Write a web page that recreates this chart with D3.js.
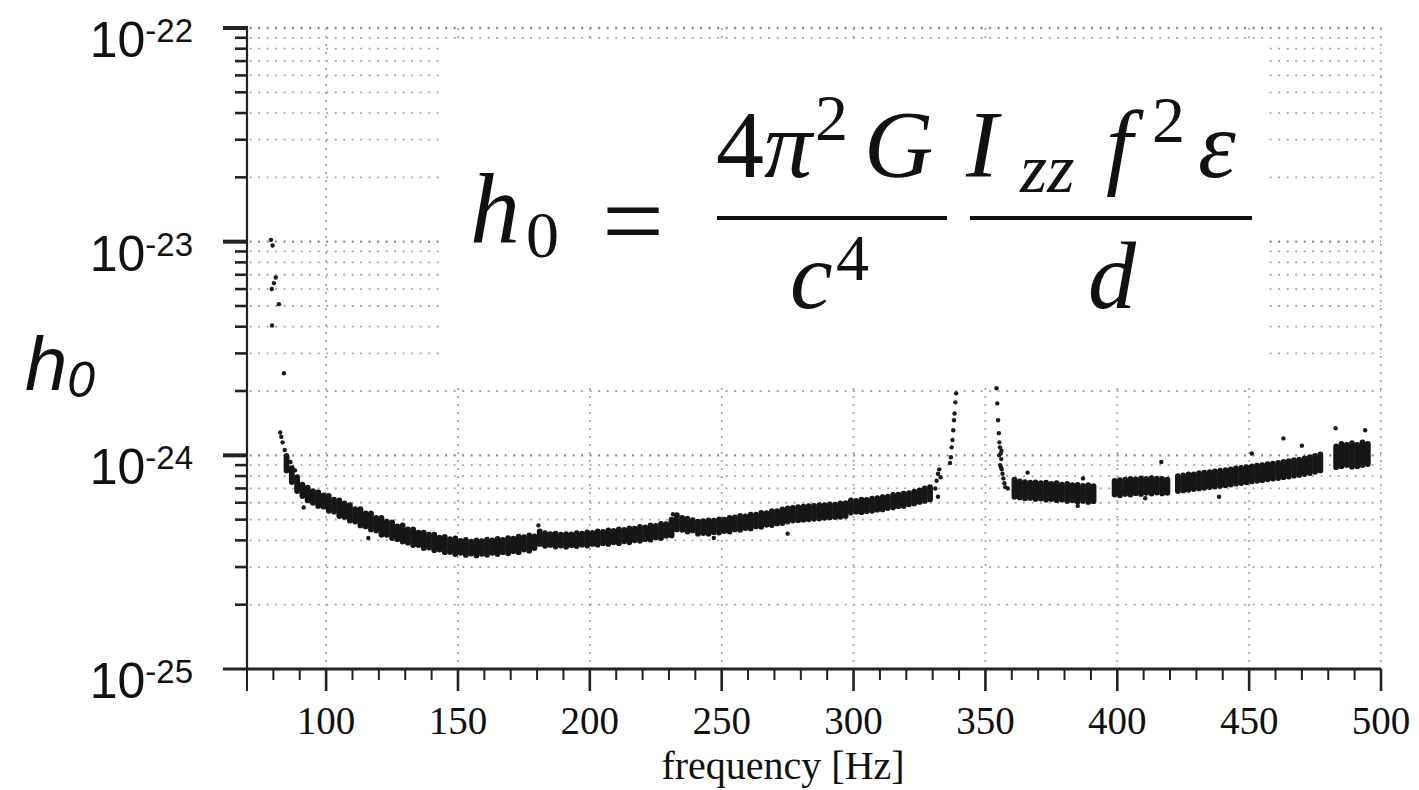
<!DOCTYPE html>
<html lang="en">
<head>
<meta charset="UTF-8">
<title>h0 upper limits</title>
<script src="https://d3js.org/d3.v7.min.js"></script>
<style>
  body { margin: 0; background: #fff; }
  svg { display: block; }
  .serif { font-family: 'Liberation Serif', 'Times New Roman', serif; }
  .sans { font-family: 'Liberation Sans', Arial, sans-serif; }
</style>
</head>
<body>
<script>
// frequencies in Hz, h0 values in units of 1e-24
const xTickLabels = [100, 150, 200, 250, 300, 350, 400, 450, 500];
const yDecades = [-25, -24, -23, -22];

// dense band, read per 2 Hz: [freq, low edge, high edge]
const bandA = [[85,.85,.99],[87,.75,.87],[89,.68,.79],[91,.645,.73],[93,.615,.705],[95,.60,.68],[97,.58,.67],[99,.575,.65],
  [101,.55,.645],[103,.545,.62],[105,.52,.615],[107,.515,.595],[109,.495,.585],[111,.49,.56],[113,.47,.56],[115,.465,.535],
  [117,.45,.535],[119,.445,.51],[121,.425,.51],[123,.425,.49],[125,.41,.485],[127,.405,.465],[129,.395,.47],[131,.39,.45],
  [133,.38,.45],[135,.38,.435],[137,.368,.435],[139,.37,.425],[141,.36,.425],[143,.362,.412],[145,.352,.415],[147,.353,.405],
  [149,.345,.408],[151,.35,.398],[153,.342,.402],[155,.347,.395],[157,.34,.40],[159,.346,.397],[161,.343,.403],[163,.35,.40],
  [165,.345,.406],[167,.352,.402],[169,.348,.41],[171,.356,.407],[173,.352,.416],[175,.362,.414],[177,.358,.422],[179,.368,.418]];
const bandB = [[181,.385,.44],[183,.377,.432],[185,.381,.428],[187,.374,.43],[189,.378,.425],[191,.373,.428],[193,.379,.427],
  [195,.376,.432],[197,.382,.43],[199,.378,.436],[201,.385,.434],[203,.382,.44],[205,.388,.438],[207,.385,.445],[209,.392,.443],
  [211,.388,.45],[213,.396,.448],[215,.392,.455],[217,.40,.454],[219,.398,.462],[221,.405,.46],[223,.403,.47],[225,.412,.468],
  [227,.41,.478],[229,.42,.476],[231,.422,.50]];
const bandC = [[233,.45,.525],[235,.448,.51],[237,.44,.505],[239,.445,.498]];
const bandD = [[241,.43,.49],[243,.433,.492],[245,.43,.496],[247,.437,.495],[249,.435,.502],[251,.442,.50],[253,.44,.51],
  [255,.45,.512],[257,.448,.52],[259,.457,.518],[261,.455,.528],[263,.465,.527],[265,.463,.538],[267,.473,.537],[269,.472,.548],
  [271,.48,.548],[273,.482,.558],[275,.49,.565],[277,.495,.568],[279,.497,.572],[281,.50,.575],[283,.502,.578],[285,.505,.58],
  [287,.506,.585],[289,.51,.584],[291,.512,.59],[293,.515,.588],[295,.516,.595],[297,.52,.598]];
const bandE = [[299,.54,.615],[301,.545,.612],[303,.542,.62],[305,.548,.618],[307,.55,.627],[309,.557,.63],[311,.558,.637],
  [313,.567,.64],[315,.57,.652],[317,.578,.655],[319,.58,.662],[321,.59,.665],[323,.595,.676],[325,.605,.685],[327,.612,.70],
  [329,.622,.71]];
const bandF = [[361,.64,.77],[363,.635,.755],[365,.63,.75],[367,.632,.745],[369,.625,.748],[371,.628,.74],[373,.62,.745],
  [375,.624,.735],[377,.617,.74],[379,.62,.73],[381,.612,.735],[383,.616,.725],[385,.608,.728],[387,.612,.72],[389,.605,.725],
  [391,.61,.718]];
const bandG = [[399,.655,.76],[401,.65,.765],[403,.66,.77],[405,.655,.775],[407,.665,.772],[409,.66,.78],[411,.668,.775],
  [413,.662,.782],[415,.67,.778],[417,.663,.775],[419,.668,.77]];
const bandH = [[423,.68,.80],[425,.685,.805],[427,.69,.815],[429,.695,.815],[431,.70,.825],[433,.705,.83],[435,.71,.835],
  [437,.714,.842],[439,.718,.848],[441,.724,.852],[443,.73,.86],[445,.737,.868],[447,.742,.874],[449,.748,.88],[451,.755,.888],
  [453,.76,.895],[455,.765,.90],[457,.773,.91],[459,.778,.915],[461,.783,.922],[463,.79,.932],[465,.795,.94],[467,.803,.95],
  [469,.81,.955],[471,.818,.968],[473,.826,.98],[475,.838,.995],[477,.85,1.01]];
const bandI = [[483,.88,1.1],[485,.89,1.13],[487,.9,1.12],[489,.885,1.14],[491,.89,1.12],[493,.9,1.15],[495,.91,1.13]];

// isolated points: [freq, h0]
const scattered = [[79.1,10.2],[79.7,9.6],[80.9,6.8],[80.2,6.4],[79.4,6.0],[82.1,5.1],[79.5,4.05],[84.0,2.42],
  [82.6,1.28],[83.0,1.22],[83.5,1.15],[84.3,1.06],[84.8,1.0],[86.5,0.93],[88.2,0.85],[91.5,0.57],
  [116,0.41],[180.5,0.47],[231.5,0.53],[247,0.41],[275,0.43],
  [331,0.70],[331.5,0.76],[332,0.82],[332.5,0.86],[333,0.79],[332,0.64],
  [336.6,0.92],[336.9,0.98],[337.2,1.09],[337.5,1.18],[337.8,1.31],[338.1,1.46],[338.3,1.57],[338.6,1.77],[338.9,1.95],
  [354.2,2.06],[354.5,1.75],[354.8,1.46],[355.1,1.27],[355.3,1.15],[355.5,1.09],[355.8,1.02],[356.0,0.96],[355.6,0.9],
  [356.2,0.86],[356.5,0.82],[356.8,0.78],[357.2,0.74],[357.5,0.71],[358.5,0.70],[355.2,1.0],[356.1,1.05],[355.9,0.88],
  [366,0.83],[385,0.58],[387,0.78],[410.6,0.63],[416.7,0.93],[438.6,0.64],[451,1.02],[463,1.2],[470,1.11],[482.8,1.34],[494,1.31]];

const bands = [bandA, bandB, bandC, bandD, bandE, bandF, bandG, bandH, bandI];
const unit = 1e-24;

const W = 1419, H = 790;
const svg = d3.select("body").append("svg").attr("width", W).attr("height", H);

const x = d3.scaleLinear().domain([70, 500]).range([247, 1381]);
const y = d3.scaleLog().domain([1e-25, 1e-22]).range([669, 28]);

const isDecade = v => Math.abs(Math.log10(v) - Math.round(Math.log10(v))) < 1e-6;

// dotted grid
const grid = svg.append("g");
grid.selectAll("line.h").data(y.ticks()).join("line")
    .attr("class", "h")
    .attr("x1", x(71)).attr("x2", x(500))
    .attr("y1", d => y(d)).attr("y2", d => y(d))
    .attr("stroke", d => isDecade(d) ? "#8a8a8a" : "#a8a8a8")
    .attr("stroke-width", d => isDecade(d) ? 2.4 : 1.8)
    .attr("stroke-dasharray", "2,6.5");
grid.selectAll("line.v").data(xTickLabels).join("line")
    .attr("class", "v")
    .attr("x1", d => x(d)).attr("x2", d => x(d))
    .attr("y1", y(1e-22)).attr("y2", y(1e-25))
    .attr("stroke", "#a8a8a8").attr("stroke-width", 1.8)
    .attr("stroke-dasharray", "2,6");

// white panel behind the formula
svg.append("rect").attr("x", 443).attr("y", 43).attr("width", 823).attr("height", 342).attr("fill", "#fff");

// axes
const axes = svg.append("g").attr("stroke", "#222");
axes.append("line").attr("x1", x(70)).attr("x2", x(70)).attr("y1", y(1e-22) - 2).attr("y2", y(1e-25))
    .attr("stroke-width", 2.2);
axes.append("line").attr("x1", x(70) - 24).attr("x2", x(500)).attr("y1", y(1e-25)).attr("y2", y(1e-25))
    .attr("stroke-width", 3);
axes.selectAll("line.yt").data(y.ticks()).join("line")
    .attr("class", "yt")
    .attr("x1", d => x(70) - (isDecade(d) ? 24 : 12)).attr("x2", x(70))
    .attr("y1", d => y(d)).attr("y2", d => y(d))
    .attr("stroke-width", d => isDecade(d) ? 4 : 2.6);
axes.selectAll("line.xt").data(d3.range(70, 501, 10)).join("line")
    .attr("class", "xt")
    .attr("x1", d => x(d)).attr("x2", d => x(d))
    .attr("y1", y(1e-25)).attr("y2", d => y(1e-25) + (d % 50 === 0 || d === 70 ? 22 : 11))
    .attr("stroke-width", d => d % 50 === 0 ? 2.6 : 2);

// y tick labels 10^n
const yl = svg.append("g").attr("class", "sans").attr("fill", "#111");
yDecades.forEach(p => {
    const t = yl.append("text").attr("x", 193).attr("y", y(Math.pow(10, p)) + 29)
        .attr("text-anchor", "end");
    t.append("tspan").attr("font-size", 50).text("10");
    t.append("tspan").attr("font-size", 33).attr("dy", -15).text(String(p));
});

// x tick labels
svg.append("g").attr("class", "serif").attr("fill", "#111")
    .selectAll("text").data(xTickLabels).join("text")
    .attr("x", d => x(d)).attr("y", 734)
    .attr("text-anchor", "middle").attr("font-size", 39)
    .text(d => d);

svg.append("text").attr("class", "serif").attr("x", 783).attr("y", 779)
    .attr("text-anchor", "middle").attr("font-size", 40).attr("fill", "#111")
    .text("frequency [Hz]");

// y axis title
const yt = svg.append("text").attr("class", "sans").attr("x", 25).attr("y", 390)
    .attr("font-style", "italic").attr("fill", "#111");
yt.append("tspan").attr("font-size", 76).text("h");
yt.append("tspan").attr("font-size", 50).attr("dy", 7).text("0");

// data
const dots = svg.append("g");
bands.forEach(b => {
    dots.append("g").selectAll("line").data(b).join("line")
        .attr("x1", d => x(d[0])).attr("x2", d => x(d[0]))
        .attr("y1", d => y(d[1] * unit)).attr("y2", d => y(d[2] * unit))
        .attr("stroke", "#161616").attr("stroke-width", 5.8)
        .attr("stroke-linecap", "round");
});
dots.append("g").selectAll("circle").data(scattered).join("circle")
    .attr("cx", d => x(d[0])).attr("cy", d => y(d[1] * unit))
    .attr("r", 2.2).attr("fill", "#1a1a1a");

// formula h0 = 4 pi^2 G / c^4 * Izz f^2 eps / d
const fm = svg.append("g").attr("class", "serif").attr("fill", "#111");
const put = (txt, px, py, size, italic) => fm.append("text").attr("x", px).attr("y", py)
    .attr("font-size", size).attr("font-style", italic ? "italic" : "normal").text(txt);
put("h", 470, 242, 100, true);
put("0", 526, 257, 66, false);
put("=", 602, 258, 110, false);
put("4", 716, 177, 96, false);
put("\u03c0", 764, 177, 96, true);
put("2", 815, 140, 66, false);
put("G", 864, 177, 96, true);
put("c", 790, 308, 96, true);
put("4", 836, 280, 66, false);
put("I", 966, 177, 96, true);
put("zz", 1020, 192, 70, true);
put("f", 1106, 177, 96, true);
put("2", 1152, 142, 66, false);
put("\u03b5", 1198, 177, 96, true);
put("d", 1088, 308, 96, true);
fm.append("line").attr("x1", 717).attr("x2", 947).attr("y1", 218).attr("y2", 218)
    .attr("stroke", "#111").attr("stroke-width", 4);
fm.append("line").attr("x1", 970).attr("x2", 1252).attr("y1", 218).attr("y2", 218)
    .attr("stroke", "#111").attr("stroke-width", 4);
</script>
</body>
</html>
